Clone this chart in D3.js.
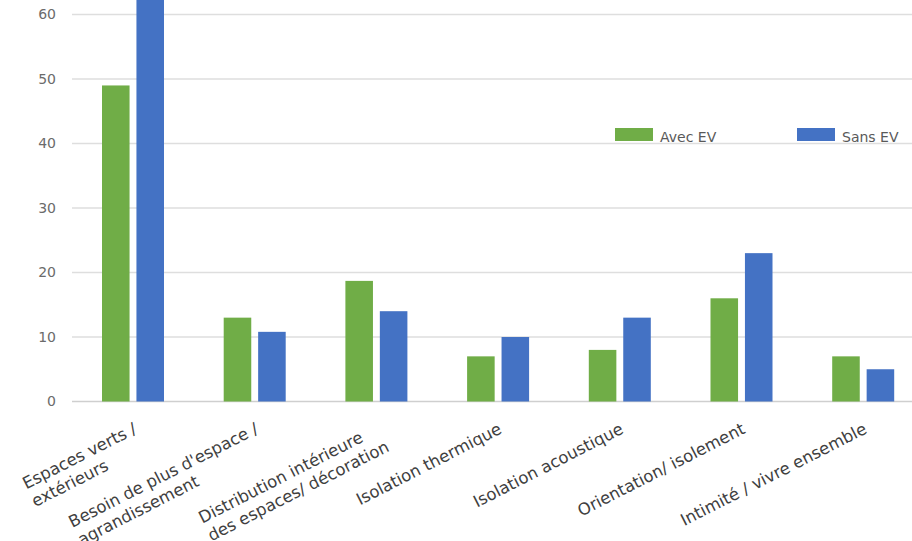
<!DOCTYPE html>
<html><head><meta charset="utf-8">
<script src="https://cdn.jsdelivr.net/npm/d3@7"></script>
<style>html,body{margin:0;padding:0;background:#fff;overflow:hidden}svg{display:block}</style>
</head><body>
<svg id="c" width="912" height="541"></svg>
<script>
const categories = [
  ["Espaces verts /", "extérieurs"],
  ["Besoin de plus d'espace /", "agrandissement"],
  ["Distribution intérieure", "des espaces/ décoration"],
  ["Isolation thermique"],
  ["Isolation acoustique"],
  ["Orientation/ isolement"],
  ["Intimité / vivre ensemble"]
];
const seriesNames = ["Avec EV", "Sans EV"];
const avecEV = [49, 13, 18.7, 7, 8, 16, 7];
const sansEV = [64, 10.8, 14, 10, 13, 23, 5];
const yTicks = [0, 10, 20, 30, 40, 50, 60];
const colors = ["#70AD47", "#4472C4"];

const svg = d3.select("#c");
const keys = categories.map((c, i) => "c" + i);
const x = d3.scaleBand().domain(keys).range([72, 72 + 7 * 121.7]).padding(0);
const x1 = d3.scaleBand().domain(seriesNames).range([30, 92]).paddingInner(0.2);
const y = d3.scaleLinear().domain([0, 60]).range([401.5, 14.5]);

// gridlines
svg.append("g").selectAll("line").data(yTicks).join("line")
  .attr("x1", 72).attr("x2", 912)
  .attr("y1", d => y(d)).attr("y2", d => y(d))
  .attr("stroke", d => d === 0 ? "#cfcfcf" : "#dedede").attr("stroke-width", 1.3);

// y axis labels
svg.append("g").selectAll("text").data(yTicks).join("text")
  .attr("x", 56).attr("y", d => y(d)).attr("dy", "0.35em")
  .attr("text-anchor", "end")
  .attr("font-family", "DejaVu Sans, sans-serif").attr("font-size", 14)
  .attr("fill", "#6b6b6b").text(d => d);

// bars
const data = keys.map((k, i) => ({ k, vals: [avecEV[i], sansEV[i]] }));
const grp = svg.append("g").selectAll("g").data(data).join("g")
  .attr("transform", d => `translate(${x(d.k)},0)`);
grp.selectAll("rect").data(d => d.vals.map((v, j) => ({ v, s: seriesNames[j], j })))
  .join("rect")
  .attr("x", d => x1(d.s)).attr("width", x1.bandwidth())
  .attr("y", d => y(d.v)).attr("height", d => y(0) - y(d.v))
  .attr("fill", d => colors[d.j]);

// x labels (block top-right at tick, lines left-aligned)
const lab = svg.append("g").selectAll("g").data(keys).join("g")
  .attr("transform", k => `translate(${x(k) + x.bandwidth() / 2 - 1},${421}) rotate(-27)`);
lab.each(function (k, i) {
  const g = d3.select(this);
  const lines = categories[i];
  const ts = lines.map((t, li) => g.append("text")
    .attr("y", 13 + li * 20)
    .attr("font-family", "DejaVu Sans, sans-serif").attr("font-size", 16.5)
    .attr("fill", "#404040").attr("text-anchor", "start").text(t));
  const w = d3.max(ts, t => t.node().getComputedTextLength());
  ts.forEach(t => t.attr("x", -w));
});

// legend
const leg = svg.append("g").selectAll("g").data(seriesNames).join("g")
  .attr("transform", (d, i) => `translate(${i === 0 ? 615 : 797},128)`);
leg.append("rect").attr("width", 38).attr("height", 13).attr("fill", (d, i) => colors[i]);
leg.append("text").attr("x", 45).attr("y", 14)
  .attr("font-family", "DejaVu Sans, sans-serif").attr("font-size", 14)
  .attr("fill", "#595959").text(d => d);
</script>
</body></html>
